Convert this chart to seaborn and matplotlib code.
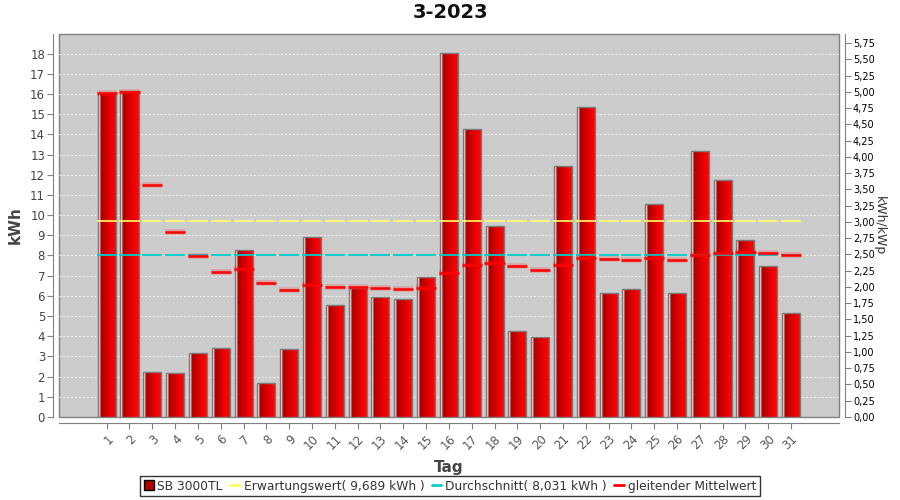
import numpy as np
import pandas as pd
import matplotlib
matplotlib.use("Agg")
import matplotlib.pyplot as plt
import seaborn as sns
from matplotlib.colors import LinearSegmentedColormap
from matplotlib.lines import Line2D

# daily yield March 2023
days = [str(d) for d in range(1, 32)]
kwh = [16.05, 16.13, 2.24, 2.19, 3.15, 3.40, 8.26, 1.67, 3.35, 8.90,
       5.55, 6.37, 5.93, 5.84, 6.92, 18.03, 14.26, 9.44, 4.28, 3.97,
       12.43, 15.35, 6.16, 6.32, 10.53, 6.16, 13.19, 11.72, 8.75, 7.46, 5.13]
# gleitender Mittelwert
mittel = [16.05, 16.09, 11.47, 9.15, 7.95, 7.19, 7.35, 6.64, 6.27, 6.53,
          6.44, 6.44, 6.40, 6.36, 6.40, 7.12, 7.54, 7.65, 7.47, 7.30,
          7.54, 7.90, 7.82, 7.76, 7.87, 7.80, 8.00, 8.14, 8.16, 8.13, 8.04]
erwartung = 9.689
schnitt = 8.031
kwp = 3.22
right_ticks = [i * 0.25 for i in range(24)]

sns.set_style("white")
plt.rcParams['font.family'] = ['DejaVu Sans']

fig = plt.figure(figsize=(9, 5), dpi=100)
ax = fig.add_axes([59 / 900, 83 / 500, 780 / 900, 383 / 500])

df = pd.DataFrame({'Tag': days, 'kWh': kwh})
sns.barplot(data=df, x='Tag', y='kWh', color='red', width=0.79,
            edgecolor='#7a7a7a', linewidth=1.0, ax=ax, zorder=3)

# gradient fill like the java chart
cmap = LinearSegmentedColormap.from_list(
    'bar', [(0, '#c89090'), (0.07, '#ffffff'), (0.15, '#a80000'),
            (0.6, '#e40000'), (1, '#ff0808')])
grad = np.linspace(0, 1, 64).reshape(1, -1)
for p in ax.patches:
    x0, w, h = p.get_x(), p.get_width(), p.get_height()
    im = ax.imshow(grad, cmap=cmap, aspect='auto', extent=[x0, x0 + w, 0, h],
                   zorder=2, interpolation='bilinear')
    im.set_clip_path(p)
    p.set_facecolor('none')

x = np.arange(len(days))
ax.hlines([erwartung] * len(x), x - 0.44, x + 0.44, color='#ffff66', lw=1.2, zorder=4)
ax.hlines([schnitt] * len(x), x - 0.44, x + 0.44, color='#00cccc', lw=1.3, zorder=4)
ax.hlines(mittel, x - 0.44, x + 0.44, color='#ff0000', lw=4, alpha=0.2, zorder=5)
ax.hlines(mittel, x - 0.44, x + 0.44, color='#ff0000', lw=1.8, zorder=5)

ax.set_xlim(-2.09, 32.1)
ax.set_ylim(0, 18.97)

ax.set_facecolor('#cccccc')
ax.patch.set_edgecolor('#808080')
ax.patch.set_linewidth(1)
ax.spines['top'].set_visible(False)
ax.spines['right'].set_visible(False)
for s in ['left', 'bottom']:
    ax.spines[s].set_position(('outward', 4))
    ax.spines[s].set_color('#808080')
ax.yaxis.grid(True, color='#f2f2f2', ls=(0, (2, 2)), lw=0.7)

ax.set_yticks(range(0, 19))
ax.tick_params(axis='y', left=True, length=4, color='#808080', labelsize=8.5,
               labelcolor='#444444', pad=2)
ax.set_xticks(x)
ax.set_xticklabels(days, rotation=45, ha='right', va='top', rotation_mode='anchor')
ax.tick_params(axis='x', bottom=True, length=4, color='#808080', labelsize=8.5,
               labelcolor='#555555', pad=3)
ax.set_ylabel('kWh', fontsize=11, fontweight='bold', color='#444444', labelpad=5)
ax.set_xlabel('Tag', fontsize=11, fontweight='bold', color='#444444', labelpad=6)

ax2 = ax.twinx()
ax2.set_ylim(0, 18.97 / kwp)
ax2.set_yticks(right_ticks)
ax2.set_yticklabels([f'{v:.2f}'.replace('.', ',') for v in right_ticks])
for s in ['left', 'top', 'bottom']:
    ax2.spines[s].set_visible(False)
ax2.spines['right'].set_position(('outward', 4))
ax2.spines['right'].set_color('#808080')
ax2.tick_params(axis='y', right=True, left=False, length=4, color='#808080',
                labelsize=7, labelcolor='black', pad=2)
ax2.set_ylabel('kWh/kWp', rotation=270, fontsize=9, color='#333333', labelpad=8)

fig.suptitle('3-2023', fontsize=14, fontweight='bold', color='#111111', y=0.995)

handles = [
    Line2D([], [], marker='s', ls='none', markersize=7, markerfacecolor='#b00000',
           markeredgecolor='black'),
    Line2D([], [], color='#ffff66', lw=2),
    Line2D([], [], color='#00cccc', lw=2),
    Line2D([], [], color='#ff0000', lw=2),
]
labels = ['SB 3000TL', 'Erwartungswert( 9,689 kWh )',
          'Durchschnitt( 8,031 kWh )', 'gleitender Mittelwert']
leg = fig.legend(handles, labels, loc='lower center', bbox_to_anchor=(0.5, 0.0),
                 ncol=4, frameon=True, fancybox=False, edgecolor='black',
                 fontsize=8.8, handlelength=0.8, handletextpad=0.3,
                 columnspacing=0.6, borderpad=0.3, borderaxespad=0.3)
leg.get_frame().set_linewidth(1)
for t in leg.get_texts():
    t.set_color('#333333')

fig.savefig('out.png', dpi=100)
